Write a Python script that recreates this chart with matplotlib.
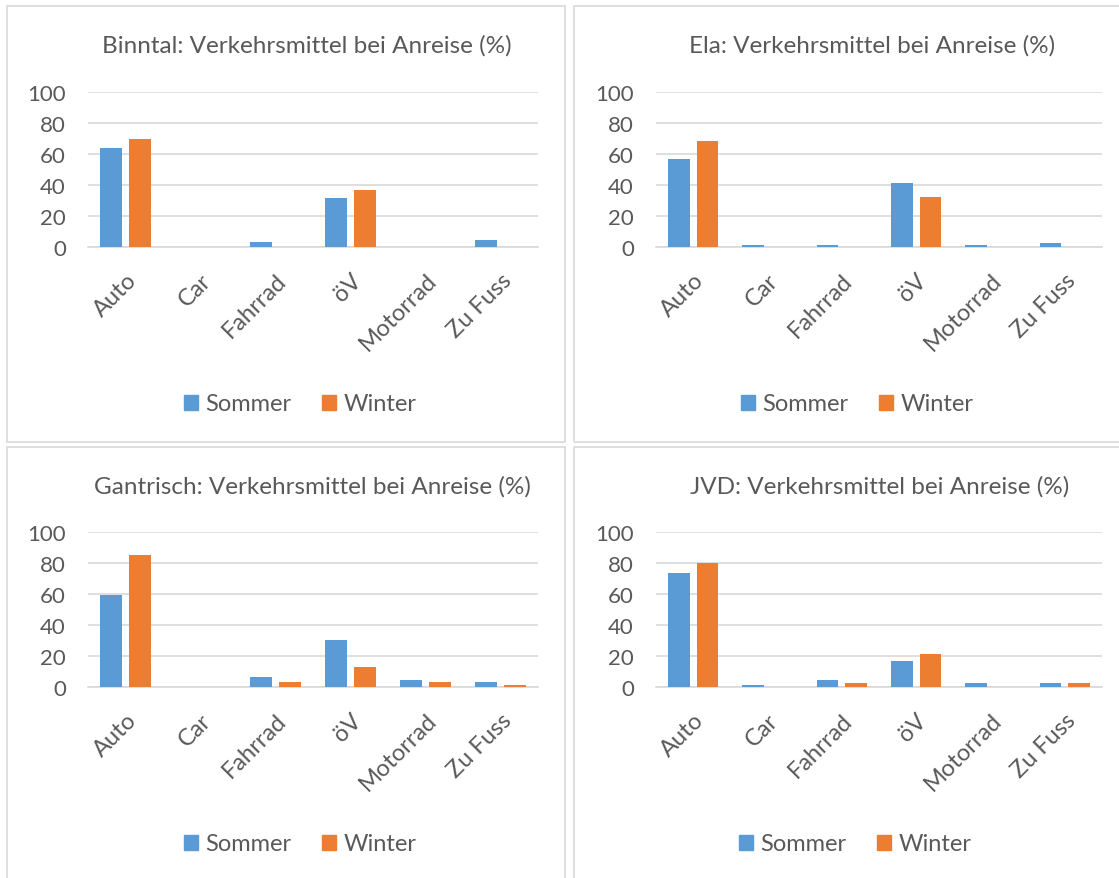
import matplotlib
matplotlib.use("Agg")
import matplotlib.pyplot as plt
from matplotlib.patches import Rectangle, Patch
import numpy as np

kategorien = ["Auto", "Car", "Fahrrad", "öV", "Motorrad", "Zu Fuss"]

binntal_sommer = [64, 0, 3.5, 31.5, 0, 4.5]
binntal_winter = [70, 0, 0, 36.5, 0, 0]
ela_sommer = [57, 1, 1, 41.5, 1, 2.5]
ela_winter = [68.5, 0, 0, 32.5, 0, 0]
gantrisch_sommer = [59.5, 0, 6.5, 30.5, 4.5, 3.5]
gantrisch_winter = [85, 0, 3.5, 13, 3.5, 1.5]
jvd_sommer = [73.5, 1, 4.5, 17, 2.5, 2.5]
jvd_winter = [80, 0, 2.5, 21, 0, 2.5]

titel = ["Binntal: Verkehrsmittel bei Anreise (%)",
         "Ela: Verkehrsmittel bei Anreise (%)",
         "Gantrisch: Verkehrsmittel bei Anreise (%)",
         "JVD: Verkehrsmittel bei Anreise (%)"]

BLAU = "#5B9BD5"
ORANGE = "#ED7D31"
GRAU = "#595959"
LINIE = "#D9D9D9"

plt.rcParams["font.family"] = ["Lato", "DejaVu Sans"]

W, H = 1119, 879
fig = plt.figure(figsize=(W / 100, H / 100), dpi=100)

def px(x0, y0, x1, y1):
    # pixel box (top-left origin) -> figure fraction
    return [x0 / W, 1 - y1 / H, (x1 - x0) / W, (y1 - y0) / H]

# Rahmen der vier Diagramme
for (x0, y0, x1, y1) in [(7, 7, 565, 443), (574, 7, 1125, 443),
                         (7, 448, 565, 885), (574, 448, 1125, 885)]:
    fig.patches.append(Rectangle((x0 / W, 1 - y1 / H), (x1 - x0) / W, (y1 - y0) / H,
                                 transform=fig.transFigure, fill=False,
                                 edgecolor=LINIE, linewidth=1.2))

panels = [
    (px(88, 93, 538, 248), binntal_sommer, binntal_winter, titel[0], (307, 46), (300, 405)),
    (px(656, 93, 1102, 248), ela_sommer, ela_winter, titel[1], (872, 46), (857, 405)),
    (px(88, 533, 538, 688), gantrisch_sommer, gantrisch_winter, titel[2], (312, 487), (300, 845)),
    (px(656, 533, 1102, 688), jvd_sommer, jvd_winter, titel[3], (880, 487), (855, 845)),
]

x = np.arange(len(kategorien))
for rect, sommer, winter, t, tpos, lpos in panels:
    ax = fig.add_axes(rect)
    ax.bar(x - 0.193, sommer, width=0.29, color=BLAU, zorder=3)
    ax.bar(x + 0.193, winter, width=0.29, color=ORANGE, zorder=3)
    ax.set_xlim(-0.5, len(kategorien) - 0.5)
    ax.set_ylim(0, 100)
    ax.set_yticks(range(0, 101, 20))
    ax.grid(axis="y", color=LINIE, linewidth=1.2, zorder=0)
    for s in ["top", "right", "left"]:
        ax.spines[s].set_visible(False)
    ax.spines["bottom"].set_color(LINIE)
    ax.spines["bottom"].set_linewidth(1.2)
    ax.tick_params(length=0, colors=GRAU, labelsize=16)
    ax.tick_params(axis="y", pad=16)
    ax.set_xticks(x)
    ax.set_xticklabels(kategorien, rotation=45, ha="right", va="top",
                       rotation_mode="anchor", fontsize=17, color=GRAU)
    ax.tick_params(axis="x", pad=16)
    fig.text(tpos[0] / W, 1 - tpos[1] / H, t, ha="center", va="center",
             fontsize=17.5, color=GRAU)
    handles = [Patch(color=BLAU, label="Sommer"), Patch(color=ORANGE, label="Winter")]
    fig.legend(handles=handles, loc="center", ncol=2,
               bbox_to_anchor=(lpos[0] / W, 1 - lpos[1] / H),
               frameon=False, fontsize=17, labelcolor=GRAU,
               handlelength=0.6, handleheight=0.6, handletextpad=0.3,
               columnspacing=1.3)

fig.savefig("out.png", dpi=100)
